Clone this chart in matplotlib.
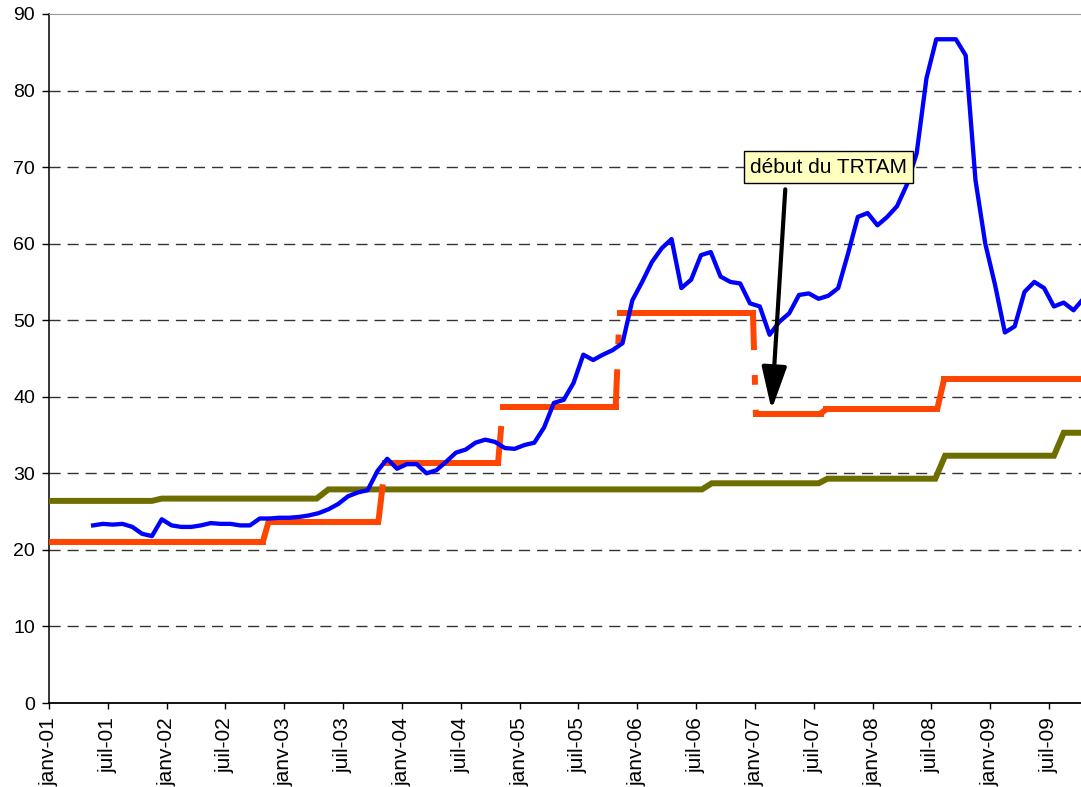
import numpy as np
import matplotlib
matplotlib.use("Agg")
import matplotlib.pyplot as plt

plt.rcParams['font.family'] = ['Liberation Sans', 'DejaVu Sans']
plt.rcParams['lines.scale_dashes'] = False

# months counted from janv-01 (0 = janv-01)
tick_years = ['01', '02', '03', '04', '05', '06', '07', '08', '09']
tick_labels = []
for yy in tick_years:
    tick_labels += ['janv-' + yy, 'juil-' + yy]

# blue series, monthly values (first point in May 2001)
blue_start = 4
blue_vals = [23.2, 23.4, 23.3, 23.4, 23.0, 22.1, 21.8, 24.0, 23.2, 23.0,
             23.0, 23.2, 23.5, 23.4, 23.4, 23.2, 23.2, 24.1, 24.1, 24.2,
             24.2, 24.3, 24.5, 24.8, 25.3, 26.0, 27.0, 27.5, 27.8, 30.3,
             31.9, 30.6, 31.2, 31.2, 30.0, 30.4, 31.5, 32.7, 33.1, 34.0,
             34.4, 34.1, 33.3, 33.2, 33.7, 34.0, 36.0, 39.2, 39.6, 41.8,
             45.5, 44.8, 45.5, 46.1, 47.0, 52.6, 55.0, 57.6, 59.4, 60.6,
             54.2, 55.3, 58.5, 58.9, 55.7, 55.0, 54.8, 52.2, 51.8, 48.1,
             49.8, 50.9, 53.3, 53.5, 52.8, 53.2, 54.2, 58.7, 63.5, 64.0,
             62.4, 63.5, 64.9, 67.7, 71.8, 81.6, 86.7, 86.7, 86.7, 84.6,
             68.3, 60.0, 54.6, 48.4, 49.2, 53.7, 55.0, 54.2, 51.8, 52.3,
             51.3, 52.8]

# orange series: constant levels between start and end months
orange_levels = [21.0, 23.7, 31.3, 38.7, 51.0, 37.8, 38.4, 42.3]
orange_start = [-1.0, 22.4, 34.3, 46.3, 58.2, 72.1, 79.3, 91.3]
orange_end = [21.8, 33.6, 45.8, 57.8, 71.8, 78.7, 90.6, 107.0]

# olive series: levels and the months where each change begins / ends
green_levels = [26.4, 26.7, 27.9, 28.7, 29.3, 32.3, 35.3]
green_chg_from = [10.5, 27.3, 66.6, 78.5, 90.4, 102.5]
green_chg_to = [11.5, 28.5, 67.6, 79.4, 91.4, 103.5]

fig = plt.figure(figsize=(10.81, 7.87), dpi=100)
ax = fig.add_axes([49 / 1081, 1 - 703 / 787, 1 - 49 / 1081, 689 / 787])

# olive line
gx = [-1.0]
gy = [green_levels[0]]
for i in range(len(green_chg_from)):
    gx += [green_chg_from[i], green_chg_to[i]]
    gy += [green_levels[i], green_levels[i + 1]]
gx.append(107.0)
gy.append(green_levels[-1])
ax.plot(gx, gy, color='#6E6E00', lw=4.3, solid_joinstyle='miter', zorder=3)

# orange line: solid plateaus, dash-dot risers
orange = '#FF4500'
for i in range(len(orange_levels)):
    ax.plot([orange_start[i], orange_end[i]], [orange_levels[i]] * 2,
            color=orange, lw=4.3, solid_capstyle='projecting', zorder=4)
    if i + 1 < len(orange_levels):
        ax.plot([orange_end[i], orange_start[i + 1]],
                [orange_levels[i], orange_levels[i + 1]],
                color=orange, lw=4.3, linestyle=(0, (27, 18, 7, 18)),
                dash_capstyle='butt', zorder=4)

# blue line
bx = np.arange(len(blue_vals)) + blue_start + 0.5
ax.plot(bx, blue_vals, color='#0000FF', lw=3.1, zorder=5)

# annotation
ax.annotate('', xy=(73.7, 38.3), xytext=(75.1, 67.1),
            arrowprops=dict(arrowstyle='-|>,head_length=1.3,head_width=0.38',
                            color='black', lw=3, mutation_scale=20,
                            shrinkA=0, shrinkB=0),
            zorder=7)
ax.text(79.5, 70.0, 'début du TRTAM', fontsize=15, ha='center', va='center',
        bbox=dict(boxstyle='square,pad=0.3', fc='#FFFFC0', ec='black', lw=1),
        zorder=8)

ax.set_xlim(0, 1032 / 9.804)
ax.set_ylim(0, 90)
ax.set_yticks(np.arange(0, 91, 10))
ax.set_xticks(np.arange(len(tick_labels)) * 6)
ax.set_xticklabels(tick_labels, rotation=90, fontsize=15, va='top')
ax.tick_params(axis='y', labelsize=14, length=5, width=1, pad=5)
ax.tick_params(axis='x', length=4, width=1, pad=6)

for v in range(10, 90, 10):
    ax.axhline(v, color='#333333', lw=1.0, linestyle=(0, (8, 5)), zorder=1)

ax.spines['right'].set_visible(False)
ax.spines['top'].set_color('#999999')
ax.spines['left'].set_linewidth(1.1)
ax.spines['bottom'].set_linewidth(1.3)

fig.savefig('out.png', dpi=100)
